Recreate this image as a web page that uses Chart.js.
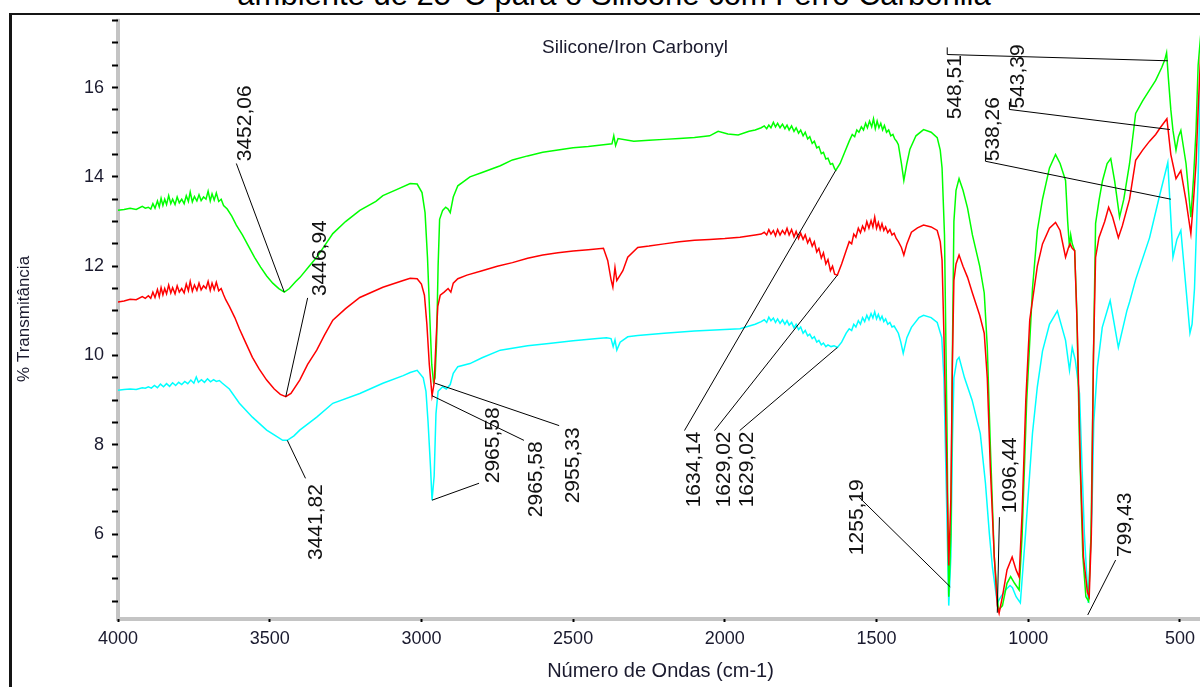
<!DOCTYPE html>
<html>
<head>
<meta charset="utf-8">
<script src="https://cdn.jsdelivr.net/npm/chart.js@4.4.0/dist/chart.umd.min.js"></script>
<style>
  html, body { margin: 0; padding: 0; background: #fff; overflow: hidden; }
  #wrap { position: relative; width: 1200px; height: 687px; overflow: hidden; font-family: "Liberation Sans", Arial, sans-serif; }
  #title { position: absolute; left: 0; top: -20px; width: 1228px; text-align: center; font-size: 31px; line-height: 30px; color: #000; white-space: nowrap; }
  #frame { position: absolute; left: 9px; top: 13px; width: 1300px; height: 800px; border-left: 3px solid #151515; border-top: 2px solid #151515; }
  #sub { position: absolute; left: 485px; top: 37px; width: 300px; text-align: center; font-size: 19px; line-height: 19px; color: #1a1a2e; }
  canvas { position: absolute; left: 0; top: 0; }
</style>
</head>
<body>
<div id="wrap">
  <div id="title">ambiente de 25°C para o Silicone com Ferro Carbonila</div>
  <div id="frame"></div>
  <canvas id="chartFtir" width="1203" height="687"></canvas>
  <div id="sub">Silicone/Iron Carbonyl</div>
</div>
<script>
// espectros FTIR: [numero de ondas, % transmitancia]

const xTickValues = [500, 1000, 1500, 2000, 2500, 3000, 3500, 4000];

const greenPts = [
  [4000,13.25],[3980,13.27],[3960,13.3],[3940,13.27],[3920,13.34],[3910,13.3],
  [3900,13.32],[3892,13.28],[3885,13.4],[3878,13.3],[3870,13.46],[3864,13.33],[3858,13.52],[3852,13.36],
  [3846,13.5],[3840,13.38],[3833,13.58],[3826,13.4],[3820,13.5],[3812,13.38],[3805,13.55],[3798,13.42],
  [3790,13.5],[3782,13.4],[3775,13.58],[3768,13.45],[3762,13.66],[3755,13.44],[3748,13.56],[3740,13.46],
  [3733,13.6],[3726,13.47],[3718,13.55],[3710,13.5],[3703,13.68],[3696,13.46],[3690,13.62],[3683,13.48],
  [3676,13.64],[3668,13.45],[3660,13.5],[3652,13.36],[3640,13.28],[3625,13.12],
  [3610,12.92],[3590,12.7],[3570,12.45],[3550,12.2],[3530,11.98],[3510,11.78],[3490,11.62],[3470,11.5],
  [3452,11.42],[3435,11.5],[3415,11.65],[3400,11.75],[3370,12.0],[3345,12.2],[3320,12.45],[3292,12.73],
  [3250,13.0],[3203,13.25],[3150,13.45],[3127,13.58],[3080,13.72],[3037,13.85],[3014,13.84],[2998,13.65],
  [2988,13.2],[2980,12.2],[2972,10.8],[2966,9.8],[2960,9.4],[2955,9.5],[2950,10.3],[2945,12.0],
  [2940,13.05],[2930,13.25],[2920,13.32],[2912,13.28],[2905,13.2],[2895,13.55],[2880,13.8],[2860,13.9],
  [2840,14.0],[2800,14.1],[2740,14.25],[2700,14.38],[2650,14.47],[2600,14.55],[2550,14.6],[2500,14.65],
  [2450,14.68],[2400,14.72],[2372,14.74],[2366,14.92],[2360,14.7],[2352,14.86],[2300,14.8],[2250,14.82],
  [2200,14.84],[2150,14.86],[2100,14.88],[2050,14.92],[2022,15.02],[1990,14.96],[1956,14.94],[1920,15.02],
  [1900,15.05],[1880,15.1],[1870,15.14],[1862,15.08],[1855,15.16],[1848,15.1],[1840,15.22],[1833,15.12],
  [1826,15.2],[1818,15.1],[1810,15.18],[1802,15.08],[1795,15.16],[1788,15.05],[1780,15.14],[1772,15.02],
  [1765,15.1],[1757,14.98],[1750,15.05],[1742,14.92],[1735,15.0],[1727,14.85],[1720,14.9],[1712,14.75],
  [1705,14.8],[1697,14.65],[1690,14.68],[1682,14.52],[1675,14.55],[1667,14.4],[1660,14.42],[1652,14.28],
  [1645,14.3],[1638,14.18],[1634,14.15],[1620,14.3],[1605,14.55],[1590,14.8],[1580,14.95],[1572,14.9],
  [1565,15.05],[1558,15.0],[1550,15.12],[1543,15.05],[1536,15.2],[1530,15.1],[1523,15.25],[1516,15.12],
  [1510,15.3],[1504,15.08],[1498,15.25],[1492,15.1],[1486,15.2],[1480,15.05],[1474,15.15],[1467,15.0],
  [1460,15.05],[1453,14.92],[1446,14.95],[1440,14.85],[1434,14.8],[1428,14.72],[1418,14.3],[1410,13.92],
  [1400,14.3],[1390,14.62],[1370,14.92],[1345,15.06],[1320,15.0],[1300,14.88],[1290,14.6],[1284,14.2],
  [1276,12.7],[1268,8.5],[1262,4.6],[1255,6.0],[1250,10.0],[1245,13.0],[1238,13.7],[1228,13.96],
  [1215,13.7],[1200,13.3],[1184,12.7],[1160,12.0],[1145,11.4],[1135,10.2],[1125,8.0],[1112,5.5],
  [1098,4.3],[1085,4.4],[1070,4.9],[1058,5.05],[1045,4.9],[1030,4.75],[1020,6.0],[1005,9.0],
  [986,11.5],[970,12.8],[953,13.5],[930,14.2],[910,14.5],[895,14.3],[877,13.92],[870,13.0],
  [864,12.42],[860,12.7],[855,12.5],[847,12.35],[840,11.0],[831,8.0],[820,5.5],[810,4.6],
  [801,4.5],[793,6.0],[785,10.0],[778,12.96],[766,13.5],[755,13.92],[740,14.3],[728,14.41],
  [715,13.9],[699,13.1],[685,13.5],[666,14.3],[646,15.42],[623,15.7],[600,15.95],[580,16.16],
  [560,16.45],[550,16.62],[544,16.78],[538,16.2],[530,15.5],[523,15.04],[513,14.6],[505,14.9],
  [497,15.04],[480,14.3],[464,13.1],[455,14.0],[447,15.04],[440,16.5],[430,17.3]
];

const redPts = [
  [4000,11.2],[3980,11.22],[3960,11.26],[3940,11.25],[3920,11.32],[3910,11.28],
  [3900,11.34],[3892,11.28],[3885,11.42],[3878,11.3],[3870,11.48],[3864,11.32],[3858,11.52],[3852,11.36],
  [3846,11.5],[3840,11.38],[3833,11.58],[3826,11.4],[3820,11.52],[3812,11.38],[3805,11.56],[3798,11.42],
  [3790,11.5],[3782,11.4],[3775,11.6],[3768,11.45],[3762,11.66],[3755,11.44],[3748,11.58],[3740,11.46],
  [3733,11.62],[3726,11.47],[3718,11.56],[3710,11.5],[3703,11.66],[3696,11.46],[3690,11.62],[3683,11.48],
  [3676,11.64],[3668,11.45],[3660,11.5],[3652,11.36],[3645,11.25],[3633,11.1],
  [3615,10.85],[3600,10.6],[3580,10.3],[3557,9.96],[3535,9.7],[3510,9.45],[3485,9.25],[3465,9.13],
  [3447,9.08],[3430,9.15],[3401,9.45],[3375,9.8],[3345,10.12],[3320,10.45],[3292,10.79],[3250,11.05],
  [3203,11.3],[3127,11.53],[3060,11.68],[3037,11.73],[3014,11.72],[3000,11.6],[2990,11.35],[2982,10.7],
  [2974,9.8],[2965,9.1],[2958,9.38],[2952,10.3],[2946,11.1],[2938,11.35],[2925,11.42],[2912,11.5],
  [2903,11.42],[2895,11.62],[2880,11.72],[2850,11.8],[2800,11.9],[2750,12.0],[2700,12.08],[2650,12.18],
  [2600,12.25],[2550,12.3],[2500,12.34],[2450,12.37],[2400,12.4],[2386,12.13],[2375,11.7],[2369,11.53],
  [2362,11.97],[2356,11.68],[2345,11.8],[2336,11.9],[2320,12.2],[2287,12.42],[2250,12.45],[2200,12.5],
  [2150,12.55],[2100,12.58],[2050,12.6],[2000,12.62],[1950,12.65],[1900,12.7],[1880,12.72],[1870,12.76],
  [1862,12.7],[1855,12.82],[1848,12.72],[1840,12.8],[1833,12.68],[1826,12.82],[1818,12.7],[1810,12.8],
  [1802,12.72],[1795,12.85],[1788,12.7],[1780,12.82],[1772,12.66],[1765,12.78],[1757,12.62],[1750,12.74],
  [1742,12.6],[1735,12.7],[1727,12.52],[1720,12.62],[1712,12.45],[1705,12.55],[1697,12.32],[1690,12.4],
  [1682,12.18],[1675,12.3],[1667,12.05],[1660,12.15],[1652,11.9],[1645,12.0],[1638,11.82],[1629,11.8],
  [1615,12.05],[1600,12.35],[1590,12.55],[1582,12.5],[1575,12.72],[1568,12.65],[1560,12.85],[1553,12.75],
  [1546,12.9],[1539,12.8],[1532,13.0],[1525,12.85],[1518,13.02],[1512,12.88],[1506,13.1],[1500,12.85],
  [1494,12.98],[1488,12.82],[1482,12.95],[1476,12.8],[1470,12.88],[1463,12.75],[1456,12.82],[1449,12.7],
  [1442,12.74],[1435,12.62],[1428,12.55],[1418,12.42],[1410,12.25],[1400,12.5],[1385,12.76],[1365,12.86],
  [1345,12.92],[1320,12.88],[1300,12.8],[1290,12.55],[1284,12.13],[1278,10.5],[1270,8.0],[1262,5.3],
  [1255,6.8],[1250,9.8],[1245,11.68],[1238,12.05],[1228,12.25],[1215,12.0],[1200,11.75],[1184,11.4],
  [1160,10.9],[1145,10.5],[1135,9.5],[1125,7.5],[1112,5.5],[1102,4.4],[1096,4.23],[1085,4.6],
  [1070,5.2],[1053,5.49],[1040,5.2],[1030,5.04],[1020,6.5],[1008,9.0],[995,10.8],[986,11.23],
  [970,12.0],[953,12.5],[930,12.85],[910,12.98],[895,12.8],[877,12.2],[868,12.4],[862,12.5],
  [855,12.4],[847,12.35],[838,10.5],[828,7.5],[818,5.5],[805,4.7],[799,4.6],[792,6.0],
  [785,10.0],[778,12.2],[767,12.64],[748,13.0],[735,13.32],[722,13.1],[703,12.64],[690,12.9],
  [666,13.5],[646,14.37],[623,14.6],[600,14.8],[580,14.95],[565,15.1],[543,15.3],[530,14.5],
  [513,13.96],[497,14.14],[480,13.47],[464,12.73],[455,13.5],[447,14.3],[440,15.5],[430,17.0]
];

const cyanPts = [
  [4000,9.22],[3980,9.24],[3960,9.25],[3940,9.24],[3920,9.28],[3910,9.27],
  [3900,9.3],[3890,9.27],[3880,9.33],[3870,9.28],[3860,9.36],[3850,9.3],[3840,9.37],[3830,9.31],
  [3820,9.39],[3810,9.33],[3800,9.4],[3790,9.35],[3780,9.42],[3770,9.37],[3760,9.45],[3750,9.38],
  [3742,9.52],[3735,9.4],[3725,9.46],[3715,9.4],[3705,9.48],[3695,9.41],[3685,9.46],[3676,9.42],
  [3666,9.44],[3656,9.38],[3633,9.25],[3600,8.93],[3557,8.62],[3510,8.33],[3480,8.2],[3457,8.1],
  [3442,8.1],[3420,8.2],[3401,8.33],[3345,8.62],[3292,8.93],[3203,9.15],[3127,9.38],[3060,9.55],
  [3037,9.62],[3014,9.67],[2994,9.5],[2985,9.2],[2978,8.5],[2970,7.5],[2965,6.76],[2958,7.3],
  [2952,8.7],[2945,9.2],[2930,9.3],[2918,9.25],[2905,9.35],[2895,9.6],[2880,9.75],[2840,9.82],
  [2800,9.95],[2740,10.12],[2650,10.22],[2580,10.27],[2500,10.33],[2420,10.38],[2390,10.4],[2375,10.38],
  [2368,10.2],[2362,10.35],[2356,10.12],[2345,10.3],[2320,10.42],[2287,10.45],[2200,10.5],[2100,10.55],
  [2000,10.58],[1950,10.6],[1900,10.7],[1880,10.76],[1870,10.8],[1862,10.74],[1855,10.86],[1848,10.78],
  [1840,10.84],[1833,10.74],[1826,10.82],[1818,10.72],[1810,10.8],[1802,10.7],[1795,10.78],[1788,10.68],
  [1780,10.74],[1772,10.62],[1765,10.7],[1757,10.58],[1750,10.64],[1742,10.5],[1735,10.56],[1727,10.44],
  [1720,10.48],[1712,10.38],[1705,10.42],[1697,10.3],[1690,10.34],[1682,10.24],[1675,10.28],[1667,10.2],
  [1660,10.24],[1650,10.2],[1640,10.22],[1629,10.18],[1615,10.3],[1600,10.5],[1590,10.6],[1582,10.56],
  [1575,10.7],[1568,10.64],[1560,10.78],[1553,10.7],[1546,10.85],[1539,10.76],[1532,10.9],[1525,10.8],
  [1518,10.94],[1512,10.84],[1506,10.98],[1500,10.82],[1494,10.92],[1488,10.8],[1482,10.88],[1476,10.76],
  [1470,10.82],[1463,10.7],[1456,10.74],[1449,10.64],[1442,10.66],[1435,10.58],[1428,10.5],[1420,10.3],
  [1412,10.05],[1400,10.4],[1385,10.63],[1360,10.85],[1345,10.9],[1320,10.85],[1300,10.74],[1285,10.4],
  [1278,9.5],[1270,7.0],[1262,4.4],[1255,5.5],[1250,8.0],[1245,9.5],[1235,9.9],[1228,9.96],
  [1210,9.5],[1185,9.0],[1158,8.25],[1141,7.14],[1128,6.0],[1118,5.26],[1102,4.46],[1090,4.6],
  [1075,4.75],[1060,4.85],[1052,4.8],[1040,4.6],[1026,4.46],[1009,6.0],[986,8.26],[970,9.3],
  [953,10.1],[930,10.7],[904,11.0],[877,10.34],[864,9.67],[855,10.18],[845,9.9],[831,9.15],
  [815,6.0],[802,4.46],[790,6.5],[784,8.5],[772,9.74],[756,10.63],[730,11.23],[703,10.18],
  [675,11.0],[666,11.2],[646,11.7],[600,12.64],[570,13.5],[540,14.32],[523,12.2],[510,12.6],
  [497,12.8],[480,11.5],[467,10.5],[460,10.7],[452,11.5],[440,14.0],[430,17.0]
];

// rotulos dos picos: texto, linha (pontos em dados), ancora do texto
const peakLabels = [
  { text: '3452,06', line: [[3452, 11.42], [3610, 14.3]], at: [3580, 14.35] },
  { text: '3446,94', line: [[3447, 9.08], [3375, 11.29]], at: [3332, 11.33] },
  { text: '3441,82', line: [[3442, 8.1], [3382, 7.25]], at: [3346, 5.42] },
  { text: '2965,58', line: [[2965, 6.76], [2810, 7.14]], at: [2764, 7.14] },
  { text: '2965,58', line: [[2965, 9.1], [2662, 8.1]], at: [2622, 6.38] },
  { text: '2955,33', line: [[2955, 9.38], [2546, 8.43]], at: [2500, 6.69] },
  { text: '1634,14', line: [[1634, 14.15], [2133, 8.32]], at: [2100, 6.6] },
  { text: '1629,02', line: [[1629, 11.8], [2034, 8.32]], at: [2001, 6.6] },
  { text: '1629,02', line: [[1629, 10.18], [1951, 8.32]], at: [1925, 6.6] },
  { text: '1255,19', line: [[1257, 4.82], [1558, 6.83]], at: [1564, 5.53] },
  { text: '1096,44', line: [[1102, 4.24], [1095, 6.38]], at: [1059, 6.47] },
  { text: '799,43', line: [[804, 4.19], [712, 5.42]], at: [679, 5.49] },
  { text: '548,51', line: [[540, 16.6], [1267, 16.74], [1267, 16.9]], at: [1241, 15.29] },
  { text: '543,39', line: [[533, 15.06], [1062, 15.51], [1062, 15.68]], at: [1032, 15.53] },
  { text: '538,26', line: [[530, 13.5], [1141, 14.35], [1141, 14.52]], at: [1115, 14.35] }
];

const toXY = pts => pts.map(p => ({ x: p[0], y: p[1] }));

// barras cinzas dos eixos (desenhadas antes das curvas)
const axisBarPlugin = {
  id: 'axisBars',
  beforeDraw(chart) {
    const { ctx, chartArea: a } = chart;
    ctx.save();
    ctx.fillStyle = '#c4c4c4';
    ctx.fillRect(a.left - 2, a.top, 4, a.bottom - a.top + 2);
    ctx.fillRect(a.left - 2, a.bottom - 2, a.right - a.left + 4, 4);
    ctx.restore();
  }
};

const peakLabelPlugin = {
  id: 'peakLabels',
  afterDatasetsDraw(chart) {
    const ctx = chart.ctx;
    const sx = chart.scales.x, sy = chart.scales.y;
    ctx.save();
    ctx.strokeStyle = '#000';
    ctx.lineWidth = 1;
    ctx.fillStyle = '#111';
    ctx.font = '21px "Liberation Sans", Arial, sans-serif';
    ctx.textAlign = 'left';
    ctx.textBaseline = 'middle';
    peakLabels.forEach(p => {
      ctx.beginPath();
      p.line.forEach((pt, i) => {
        const px = sx.getPixelForValue(pt[0]), py = sy.getPixelForValue(pt[1]);
        if (i === 0) ctx.moveTo(px, py); else ctx.lineTo(px, py);
      });
      ctx.stroke();
      ctx.save();
      ctx.translate(sx.getPixelForValue(p.at[0]), sy.getPixelForValue(p.at[1]));
      ctx.rotate(-Math.PI / 2);
      ctx.fillText(p.text, 0, 0);
      ctx.restore();
    });
    ctx.restore();
  }
};

const tickFont = { family: '"Liberation Sans", Arial, sans-serif', size: 18 };

const ctx1 = document.getElementById('chartFtir');

const config1 = {
  type: 'line',
  data: {
    datasets: [
      { label: 'red', data: toXY(redPts), borderColor: '#ff0000', order: 0 },
      { label: 'green', data: toXY(greenPts), borderColor: '#00ff00', order: 1 },
      { label: 'cyan', data: toXY(cyanPts), borderColor: '#00ffff', order: 2 }
    ]
  },
  options: {
    responsive: false,
    animation: false,
    layout: { padding: { left: 14, top: 17, right: 0, bottom: 0 } },
    elements: {
      line: { borderWidth: 1.5, tension: 0, fill: false },
      point: { radius: 0 }
    },
    plugins: { legend: { display: false }, tooltip: { enabled: false } },
    scales: {
      x: {
        type: 'linear',
        reverse: true,
        min: 424,
        max: 4000,
        afterBuildTicks: s => { s.ticks = xTickValues.map(v => ({ value: v })); },
        afterFit: s => { s.height = 68; },
        border: { display: false },
        grid: { drawOnChartArea: false, tickLength: 3, tickWidth: 2, tickColor: '#000', z: 1 },
        ticks: { autoSkip: false, maxRotation: 0, padding: 6, font: tickFont, color: '#1a1a2e',
          callback: v => String(v) },
        title: { display: true, text: 'Número de Ondas (cm-1)', color: '#1a1a2e', font: { family: tickFont.family, size: 20 }, padding: { top: 4, bottom: 4 } }
      },
      y: {
        min: 4.1,
        max: 17.54,
        afterFit: s => { s.width = 104; },
        border: { display: false },
        grid: { drawOnChartArea: false, tickLength: 6, tickWidth: 2, tickColor: '#000', z: 1 },
        ticks: { stepSize: 0.5, includeBounds: false, autoSkip: false, padding: 8, font: tickFont, color: '#1a1a2e',
          callback: v => (v % 2 === 0 ? String(v) : '') },
        title: { display: true, text: '% Transmitância', color: '#1a1a2e', font: { family: tickFont.family, size: 17 }, padding: { top: 0, bottom: 0 } }
      }
    }
  },
  plugins: [axisBarPlugin, peakLabelPlugin]
};

new Chart(ctx1, config1);
</script>
</body>
</html>
